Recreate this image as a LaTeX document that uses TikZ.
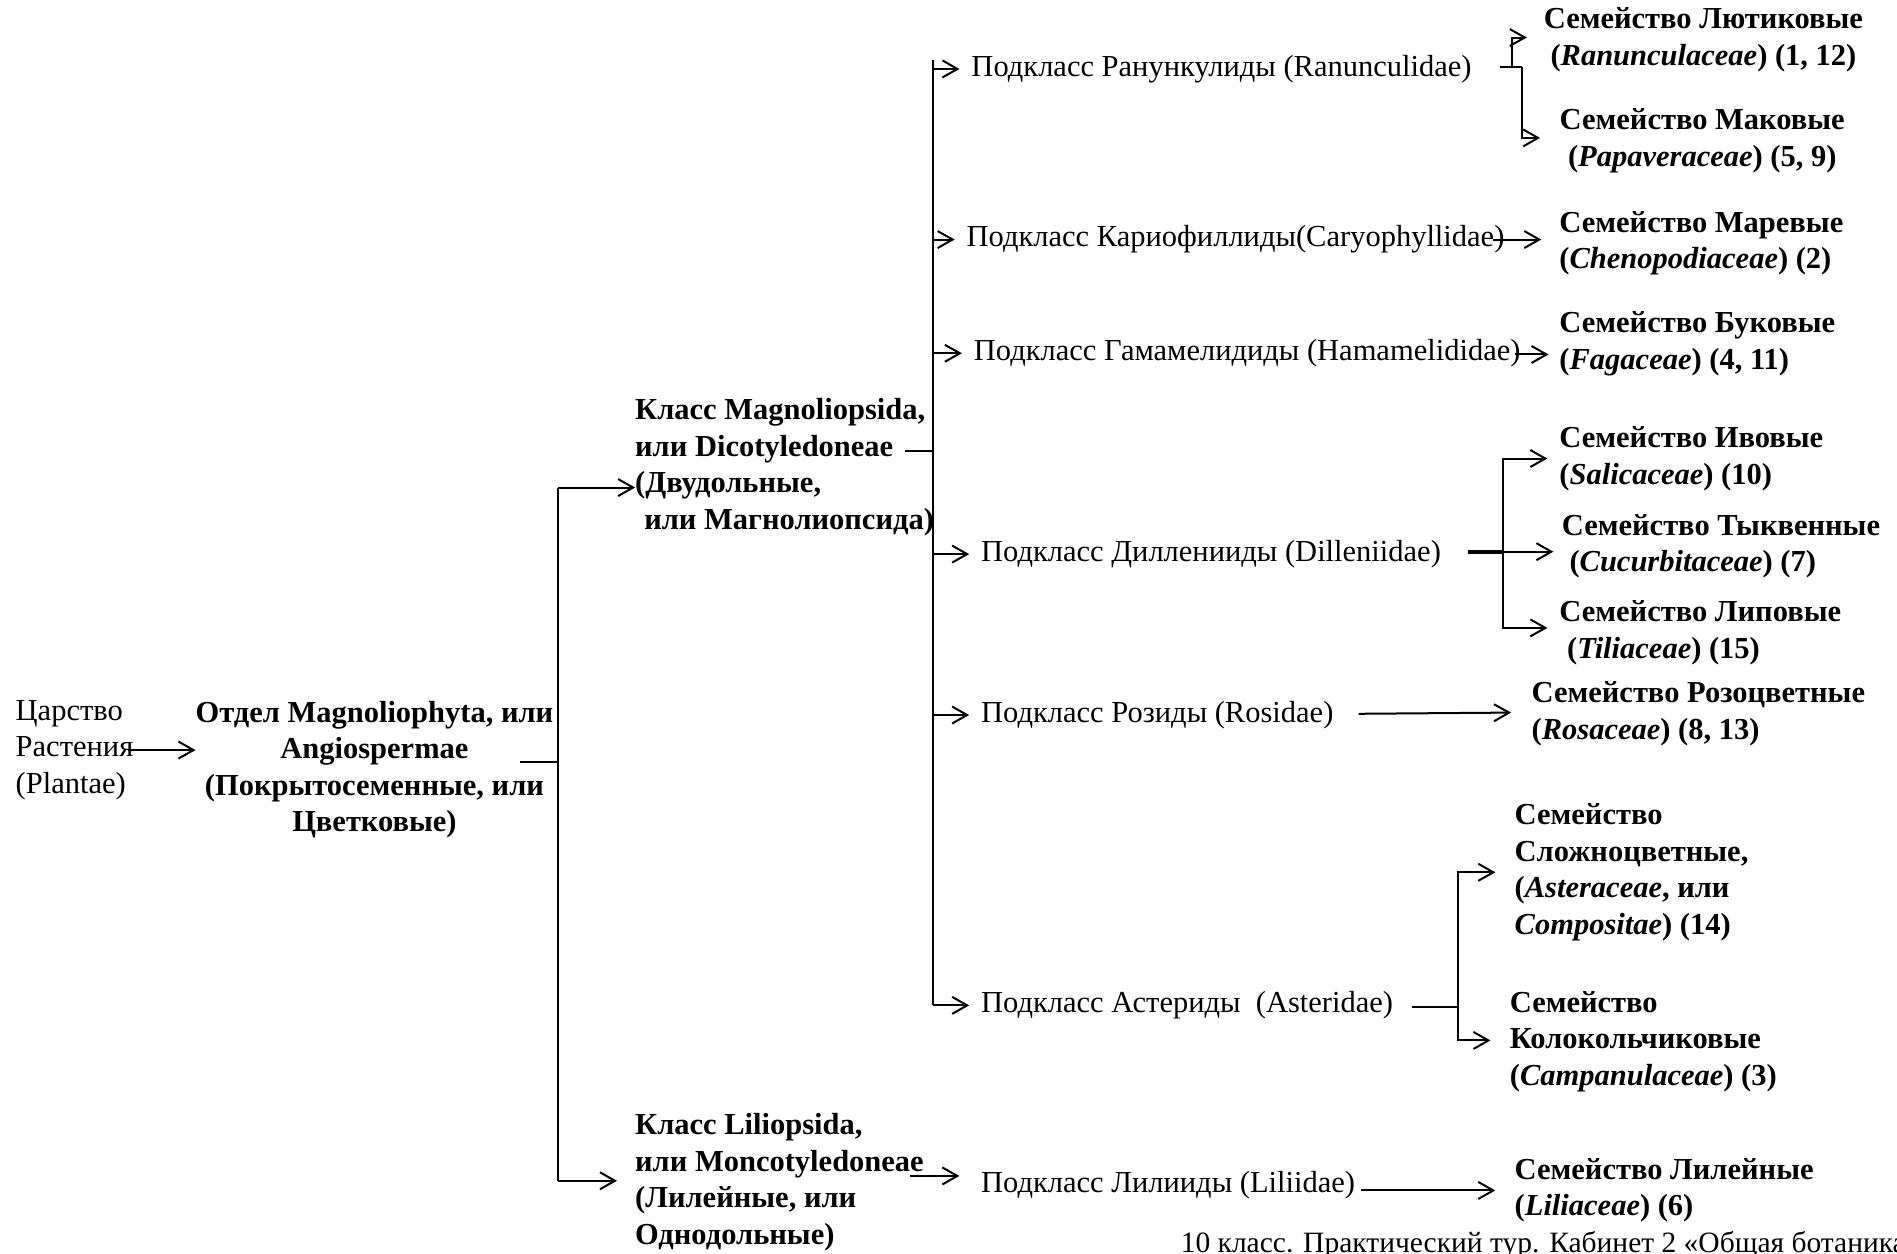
\documentclass[tikz,border=0pt]{standalone}
\usepackage{fontspec}
\setmainfont{Liberation Serif}
\usetikzlibrary{arrows.meta}
\begin{document}
\begin{tikzpicture}[x=1.2098pt,y=-1.2098pt,
  every node/.style={inner sep=0pt, outer sep=0pt, font=\fontsize{30.5}{36.5}\selectfont},
  reg/.style={anchor=west, align=left},
  fam/.style={anchor=west, align=left, font=\fontsize{30.5}{36.5}\selectfont\bfseries},
  conn/.style={line width=2pt},
  thickconn/.style={line width=4pt},
  arr/.style={line width=2pt, -{Straight Barb[length=15pt,width=17pt,line width=2pt]}},
]
\useasboundingbox (0,0) rectangle (1568,1036);
\clip (0,0) rectangle (1568,1036);

% ---- nodes ----
\node[reg] (kingdom) at (13,620) {Царство\\Растения\\(Plantae)};
\node[fam, anchor=center, align=center] (otdel) at (309.5,636) {Отдел Magnoliophyta, или\\Angiospermae\\(Покрытосеменные, или\\Цветковые)};
\node[fam] (magn) at (525,386) {Класс Magnoliopsida,\\или Dicotyledoneae\\(Двудольные,\\\hspace*{0.3em}или Магнолиопсида)};
\node[fam] (lili) at (525,977) {Класс Liliopsida,\\или Moncotyledoneae\\(Лилейные, или\\Однодольные)};

\node[reg] (s1) at (803,57) {Подкласс Ранункулиды (Ranunculidae)};
\node[reg] (s2) at (799,198) {Подкласс Кариофиллиды(Caryophyllidae)};
\node[reg] (s3) at (805,292) {Подкласс Гамамелидиды (Hamamelididae)};
\node[reg] (s4) at (811,458) {Подкласс Дилленииды (Dilleniidae)};
\node[reg] (s5) at (811,591) {Подкласс Розиды (Rosidae)};
\node[reg] (s6) at (811,831) {Подкласс Астериды\ \ (Asteridae)};
\node[reg] (s7) at (811,980) {Подкласс Лилииды (Liliidae)};

\node[fam, anchor=center, align=center] (f1) at (1408,33) {Семейство Лютиковые\\(\textit{Ranunculaceae}) (1, 12)};
\node[fam, anchor=center, align=center] (f2) at (1407,116.5) {Семейство Маковые\\(\textit{Papaveraceae}) (5, 9)};
\node[fam] (f3) at (1289,201) {Семейство Маревые\\(\textit{Chenopodiaceae}) (2)};
\node[fam] (f4) at (1289,284) {Семейство Буковые\\(\textit{Fagaceae}) (4, 11)};
\node[fam] (f5) at (1289,379) {Семейство Ивовые\\(\textit{Salicaceae}) (10)};
\node[fam] (f6) at (1291,451.5) {Семейство Тыквенные\\\hspace*{0.25em}(\textit{Cucurbitaceae}) (7)};
\node[fam] (f7) at (1289,523) {Семейство Липовые\\\hspace*{0.25em}(\textit{Tiliaceae}) (15)};
\node[fam] (f8) at (1266,590) {Семейство Розоцветные\\(\textit{Rosaceae}) (8, 13)};
\node[fam] (f9) at (1252,721) {Семейство\\Сложноцветные,\\(\textit{Asteraceae}, или\\\textit{Compositae}) (14)};
\node[fam] (f10) at (1248,861) {Семейство\\Колокольчиковые\\(\textit{Campanulaceae}) (3)};
\node[fam] (f11) at (1252,984) {Семейство Лилейные\\(\textit{Liliaceae}) (6)};

\node[reg, font=\fontsize{29.5}{35}\selectfont] (foot) at (976,1029) {10 класс. Практический тур. Кабинет 2 «Общая ботаника};

% ---- junction coordinates ----
\coordinate (kA) at (106,620);
\coordinate (oA) at (430,630);
\coordinate (spA) at (461,403);
\coordinate (spM) at (461,630);
\coordinate (spB) at (461,976);
\coordinate (liT) at (510,976);
\coordinate (mA) at (748,373);
\coordinate (sp2M) at (771,373);
\coordinate (sp2T) at (771,50);
\coordinate (sp2B) at (771,831);
\coordinate (lA) at (752,972);
\coordinate (lT) at (793,972);

% ---- upper levels ----
\draw[arr] (kA) -- (kA -| otdel.west);
\draw[conn] (oA) -- (spM);
\draw[conn] (spA) -- (spB);
\draw[arr] (spA) -- (spA -| magn.west);
\draw[arr] (spB) -- (liT);
\draw[conn] (mA) -- (sp2M);
\draw[conn] (sp2T) -- (sp2B);
\foreach \n in {s1,s2,s3,s4,s5,s6} {
  \draw[arr] (sp2T |- \n.west) -- ([xshift=-12pt]\n.west);
}
\draw[arr] (lA) -- (lT);

% ---- families ----
\coordinate (r1a) at (1240,55.4);
\coordinate (r1b) at (1258,55.4);
\coordinate (r1c) at (1250,55.4);
\draw[conn] (r1a) -- (r1b);
\draw[arr] (r1b) |- (1273,114);
\draw[arr] (r1c) |- (1262,31);

\coordinate (r2a) at (1234,198);
\draw[arr] (r2a) -- (1274,198);

\coordinate (r3a) at (1252,293);
\draw[arr] (r3a) -- (1280,293);

\coordinate (r4a) at (1213,456);
\coordinate (r4b) at (1242,456);
\draw[thickconn] (r4a) -- (r4b);
\draw[arr] (r4b) -- (1284,456);
\draw[arr] (r4b) |- (1279,379);
\draw[arr] (r4b) |- (1279,519);

\coordinate (r5a) at (1123,590);
\draw[arr] (r5a) -- (1249,589);

\coordinate (r6a) at (1167,832);
\coordinate (r6b) at (1205,832);
\draw[conn] (r6a) -- (r6b);
\draw[arr] (r6b) |- (1236,721);
\draw[arr] (r6b) |- (1232,860);

\coordinate (r7a) at (1125,984);
\draw[arr] (r7a) -- (1236,984);
\end{tikzpicture}
\end{document}
